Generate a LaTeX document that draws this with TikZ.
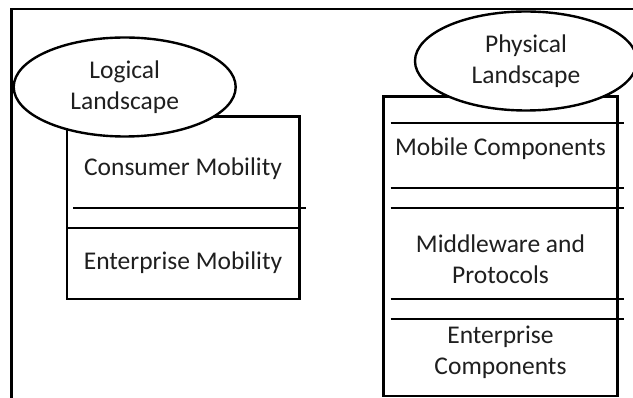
\documentclass[tikz,border=0pt]{standalone}
\usepackage{fontspec}
\setmainfont{Carlito}
\usetikzlibrary{shapes.geometric}
\begin{document}
\begin{tikzpicture}[x=1pt,y=-1pt,
  rule/.style={line width=2.4pt,black},
  label/.style={font=\fontsize{25.5}{31}\selectfont,text=black!88,align=center,inner sep=0pt},
  bubble/.style={ellipse,draw,rule,fill=white,minimum width=222pt,minimum height=99pt,inner sep=0pt,
                 font=\fontsize{25.5}{31}\selectfont,text=black!88,align=center}]
  \useasboundingbox (0,0) rectangle (633,398);
  \clip (0,0) rectangle (633,398);
  \fill[white] (0,0) rectangle (633,398);

  % outer frame
  \coordinate (fTL) at (11.5,9);
  \coordinate (fTR) at (640,9);
  \coordinate (fBL) at (11.5,405);
  \draw[rule] (fTR) -- (fTL) -- (fBL);

  % logical landscape box
  \draw[rule] (66.7,116.7) rectangle (299.5,299);
  \draw[rule] (73,208.3) -- (305.7,208.3);
  \draw[rule] (66.7,228.3) -- (299.5,228.3);
  \node[label] (consumer) at (183,169) {Consumer Mobility};
  \node[label] (enterprise) at (183,263) {Enterprise Mobility};
  \node[bubble] (logical) at (124.7,87) {Logical\\Landscape};

  % physical landscape box
  \draw[rule] (383.3,96.7) rectangle (617.3,396);
  \foreach \yy in {123.3,188.3,208.3,299,319}
    \draw[rule] (390.7,\yy) -- (624,\yy);
  \node[label] (mobile) at (500.5,149) {Mobile Components};
  \node[label] (middleware) at (500.5,259) {Middleware and\\Protocols};
  \node[label] (entcomp) at (500.5,352) {Enterprise\\Components};
  \node[bubble] (physical) at (526,61) {Physical\\Landscape};
\end{tikzpicture}
\end{document}
